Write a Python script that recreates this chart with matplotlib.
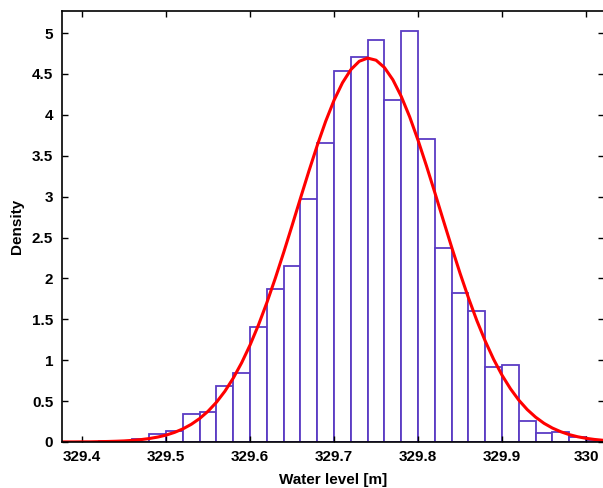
#
# plot.py - histogram of simulated water levels with fitted normal density
#
import matplotlib
matplotlib.use("Agg")
import matplotlib.pyplot as plt

# histogram bins (left edges, width 0.02 m) and densities
bin_left = [329.38, 329.40, 329.42, 329.44, 329.46, 329.48, 329.50, 329.52,
            329.54, 329.56, 329.58, 329.60, 329.62, 329.64, 329.66, 329.68,
            329.70, 329.72, 329.74, 329.76, 329.78, 329.80, 329.82, 329.84,
            329.86, 329.88, 329.90, 329.92, 329.94, 329.96, 329.98, 330.00]
density = [0.005, 0.005, 0.01, 0.01, 0.035, 0.095, 0.135, 0.34,
           0.37, 0.69, 0.84, 1.40, 1.87, 2.15, 2.97, 3.65,
           4.54, 4.71, 4.91, 4.18, 5.03, 3.71, 2.37, 1.82,
           1.60, 0.92, 0.94, 0.26, 0.11, 0.12, 0.06, 0.02]
bin_width = 0.02

# fitted density curve (step 0.01 m)
curve_x = [329.37, 329.38, 329.39, 329.40, 329.41, 329.42, 329.43, 329.44,
           329.45, 329.46, 329.47, 329.48, 329.49, 329.50, 329.51, 329.52,
           329.53, 329.54, 329.55, 329.56, 329.57, 329.58, 329.59, 329.60,
           329.61, 329.62, 329.63, 329.64, 329.65, 329.66, 329.67, 329.68,
           329.69, 329.70, 329.71, 329.72, 329.73, 329.74, 329.75, 329.76,
           329.77, 329.78, 329.79, 329.80, 329.81, 329.82, 329.83, 329.84,
           329.85, 329.86, 329.87, 329.88, 329.89, 329.90, 329.91, 329.92,
           329.93, 329.94, 329.95, 329.96, 329.97, 329.98, 329.99, 330.00,
           330.01, 330.02, 330.03]
curve_y = [0.000, 0.001, 0.001, 0.002, 0.002, 0.004, 0.006, 0.009,
           0.013, 0.020, 0.029, 0.042, 0.060, 0.084, 0.117, 0.160,
           0.216, 0.287, 0.376, 0.486, 0.620, 0.781, 0.969, 1.186,
           1.431, 1.704, 2.001, 2.317, 2.646, 2.981, 3.311, 3.627,
           3.921, 4.179, 4.392, 4.553, 4.655, 4.694, 4.668, 4.578,
           4.429, 4.225, 3.976, 3.689, 3.376, 3.048, 2.713, 2.382,
           2.063, 1.762, 1.484, 1.233, 1.010, 0.816, 0.651, 0.511,
           0.396, 0.303, 0.228, 0.170, 0.125, 0.090, 0.064, 0.045,
           0.031, 0.021, 0.014]

x_ticks = [329.4, 329.5, 329.6, 329.7, 329.8, 329.9, 330.0]
x_tick_labels = ["329.4", "329.5", "329.6", "329.7", "329.8", "329.9", "330"]
y_ticks = [0, 0.5, 1, 1.5, 2, 2.5, 3, 3.5, 4, 4.5, 5]
y_tick_labels = ["0", "0.5", "1", "1.5", "2", "2.5", "3", "3.5", "4", "4.5", "5"]

plt.rcParams["font.family"] = ["Liberation Sans", "DejaVu Sans"]

fig = plt.figure(figsize=(6.03, 4.88), dpi=100)
# right spine sits just past the image edge, as in the original
ax = fig.add_axes([0.102, 0.0943, 0.8997, 0.8832])

ax.bar(bin_left, density, width=bin_width, align="edge",
       color="white", edgecolor="#5b3cc4", linewidth=1.3)
ax.plot(curve_x, curve_y, color="red", linewidth=2.2)

ax.set_xlim(329.3755, 330.0214)
ax.set_ylim(0, 5.27)
ax.set_xticks(x_ticks)
ax.set_xticklabels(x_tick_labels, fontsize=11, fontweight="bold")
ax.set_yticks(y_ticks)
ax.set_yticklabels(y_tick_labels, fontsize=11, fontweight="bold")
ax.tick_params(direction="in", top=True, right=True, length=4, width=1, pad=6)

ax.set_xlabel("Water level [m]", fontsize=11, fontweight="bold", labelpad=6)
ax.set_ylabel("Density", fontsize=11, fontweight="bold", labelpad=6)

for s in ax.spines.values():
    s.set_linewidth(1.2)

fig.savefig("out.png", dpi=100)
